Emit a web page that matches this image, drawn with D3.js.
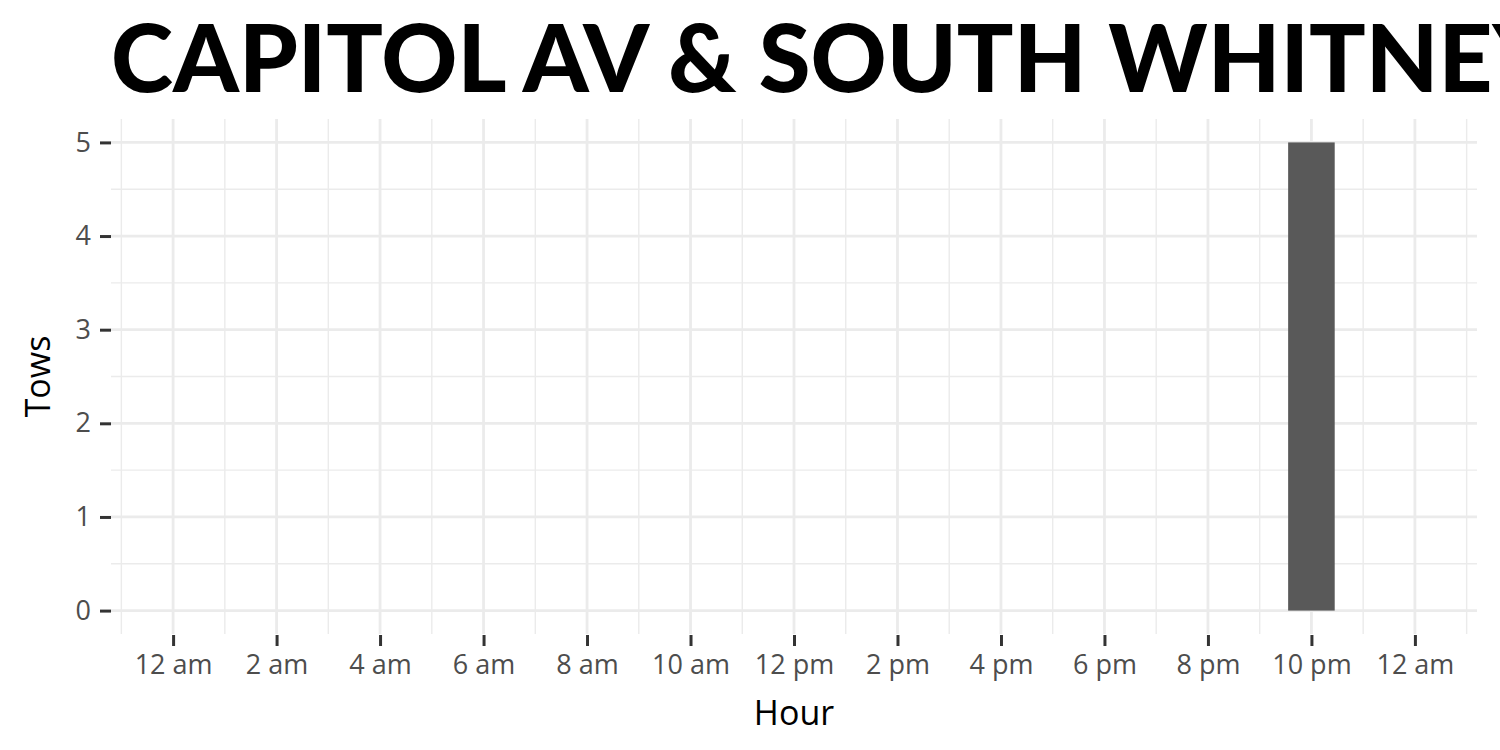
<!DOCTYPE html>
<html>
<head>
<meta charset="utf-8">
<script src="https://cdn.jsdelivr.net/npm/d3@7"></script>
<style>
  html, body { margin: 0; padding: 0; background: #fff; }
  svg { display: block; }
</style>
</head>
<body>
<svg id="chart" width="1500" height="750"></svg>
<script>
const title = "CAPITOL AV & SOUTH WHITNEY";
const hours = [0,1,2,3,4,5,6,7,8,9,10,11,12,13,14,15,16,17,18,19,20,21,22,23];
const tows  = [0,0,0,0,0,0,0,0,0,0,0,0,0,0,0,0,0,0,0,0,0,0,5,0];
const xTickValues = [0,2,4,6,8,10,12,14,16,18,20,22,24];
const xTickLabels = ["12 am","2 am","4 am","6 am","8 am","10 am","12 pm","2 pm","4 pm","6 pm","8 pm","10 pm","12 am"];
const yTickValues = [0,1,2,3,4,5];
const xMinor = [-1,1,3,5,7,9,11,13,15,17,19,21,23,25];
const yMinor = [0.5,1.5,2.5,3.5,4.5];

const svg = d3.select("#chart");
const panel = {left: 111, right: 1477, top: 119, bottom: 634};

const x = d3.scaleLinear().domain([-1.2, 25.2]).range([panel.left, panel.right]);
const y = d3.scaleLinear().domain([-0.25, 5.25]).range([panel.bottom, panel.top]);

const grid = svg.append("g");
const gridColor = "#ebebeb";
grid.selectAll("line.xmin").data(xMinor).enter().append("line")
  .attr("x1", d => x(d)).attr("x2", d => x(d))
  .attr("y1", panel.top).attr("y2", panel.bottom)
  .attr("stroke", gridColor).attr("stroke-width", 1.4);
grid.selectAll("line.ymin").data(yMinor).enter().append("line")
  .attr("y1", d => y(d)).attr("y2", d => y(d))
  .attr("x1", panel.left).attr("x2", panel.right)
  .attr("stroke", gridColor).attr("stroke-width", 1.4);
grid.selectAll("line.xmaj").data(xTickValues).enter().append("line")
  .attr("x1", d => x(d)).attr("x2", d => x(d))
  .attr("y1", panel.top).attr("y2", panel.bottom)
  .attr("stroke", gridColor).attr("stroke-width", 2.8);
grid.selectAll("line.ymaj").data(yTickValues).enter().append("line")
  .attr("y1", d => y(d)).attr("y2", d => y(d))
  .attr("x1", panel.left).attr("x2", panel.right)
  .attr("stroke", gridColor).attr("stroke-width", 2.8);

// bars
const bw = 0.9;
svg.append("g").selectAll("rect").data(hours.map((h, i) => ({h, v: tows[i]})).filter(d => d.v > 0))
  .enter().append("rect")
  .attr("x", d => x(d.h - bw/2))
  .attr("width", d => x(d.h + bw/2) - x(d.h - bw/2))
  .attr("y", d => y(d.v))
  .attr("height", d => y(0) - y(d.v))
  .attr("fill", "#595959");

// axes
const tickFont = "'Open Sans', 'DejaVu Sans', sans-serif";
const xAxis = d3.axisBottom(x).tickValues(xTickValues)
  .tickFormat((d, i) => xTickLabels[i]).tickSize(11).tickPadding(9);
const gx = svg.append("g").attr("transform", `translate(0,${panel.bottom + 1})`).call(xAxis);
gx.select(".domain").remove();
gx.selectAll(".tick line").attr("stroke", "#333333").attr("stroke-width", 3);
gx.selectAll(".tick text").attr("fill", "#4d4d4d").style("font-family", tickFont).style("font-size", "27px");

const yAxis = d3.axisLeft(y).tickValues(yTickValues).tickFormat(d3.format("d")).tickSize(11).tickPadding(9);
const gy = svg.append("g").attr("transform", `translate(${panel.left},0)`).call(yAxis);
gy.select(".domain").remove();
gy.selectAll(".tick line").attr("stroke", "#333333").attr("stroke-width", 3);
gy.selectAll(".tick text").attr("fill", "#4d4d4d").style("font-family", tickFont).style("font-size", "27px");

// axis titles
svg.append("text").attr("x", (panel.left + panel.right)/2).attr("y", 725)
  .attr("text-anchor", "middle").style("font-family", tickFont).style("font-size", "34px")
  .attr("fill", "#000").text("Hour");
svg.append("text").attr("transform", `translate(50,${(panel.top + panel.bottom)/2}) rotate(-90)`)
  .attr("text-anchor", "middle").style("font-family", tickFont).style("font-size", "34px")
  .attr("fill", "#000").text("Tows");

// title
svg.append("text").attr("x", 111).attr("y", 92)
  .style("font-family", "Lato, sans-serif").style("font-weight", 900).style("font-size", "94px")
  .attr("fill", "#000").text(title);
</script>
</body>
</html>
